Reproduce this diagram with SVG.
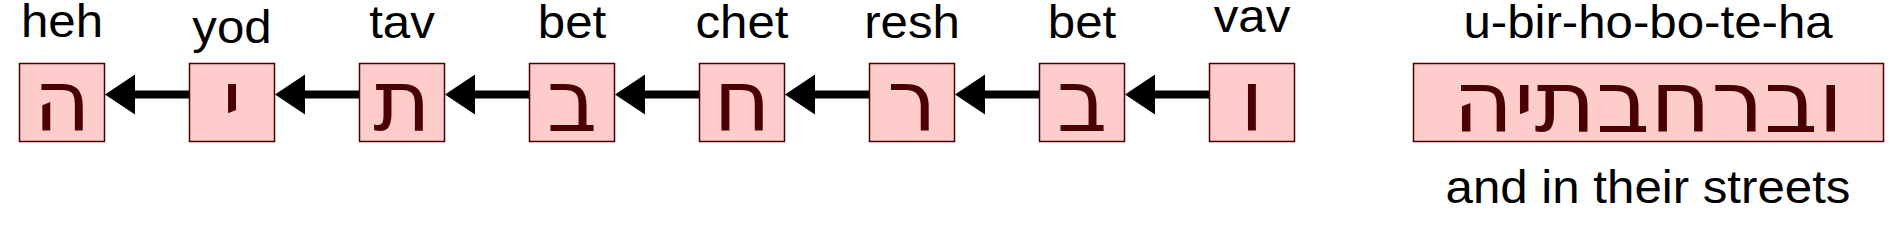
<svg xmlns="http://www.w3.org/2000/svg" width="1903" height="241" viewBox="0 0 1903 241">
<style>
.box{fill:#ffcccc;stroke:#4a0000;stroke-width:1.5}
.lbl{font-family:"Liberation Sans",Arial,sans-serif;font-size:46px;fill:#000;text-anchor:middle}
.heb{font-family:"DejaVu Sans",sans-serif;font-size:85px;fill:#4a0000;text-anchor:middle}
.ln{stroke:#000;stroke-width:8;fill:none}
.ah{fill:#000}
</style>
<rect width="1903" height="241" fill="#fff"/>
<g id="connectors">
<line class="ln" x1="189.5" y1="94.5" x2="130" y2="94.5"/><polygon class="ah" points="105,94.5 135,74.5 135,114.5"/>
<line class="ln" x1="359.5" y1="94.5" x2="300" y2="94.5"/><polygon class="ah" points="275,94.5 305,74.5 305,114.5"/>
<line class="ln" x1="529.5" y1="94.5" x2="470" y2="94.5"/><polygon class="ah" points="445,94.5 475,74.5 475,114.5"/>
<line class="ln" x1="699.5" y1="94.5" x2="640" y2="94.5"/><polygon class="ah" points="615,94.5 645,74.5 645,114.5"/>
<line class="ln" x1="869.5" y1="94.5" x2="810" y2="94.5"/><polygon class="ah" points="785,94.5 815,74.5 815,114.5"/>
<line class="ln" x1="1039.5" y1="94.5" x2="980" y2="94.5"/><polygon class="ah" points="955,94.5 985,74.5 985,114.5"/>
<line class="ln" x1="1209.5" y1="94.5" x2="1150" y2="94.5"/><polygon class="ah" points="1125,94.5 1155,74.5 1155,114.5"/>
</g>
<g id="n-heh"><rect class="box" x="19.5" y="63.5" width="85" height="78"/><text class="heb" transform="translate(62,130.5) scale(1.03,1)">ה</text><text class="lbl" transform="translate(62,37) scale(1.07,1)">heh</text></g>
<g id="n-yod"><rect class="box" x="189.5" y="63.5" width="85" height="78"/><text class="heb" transform="translate(232,130.5) scale(1.03,1)">י</text><text class="lbl" transform="translate(232,42.5) scale(1.07,1)">yod</text></g>
<g id="n-tav"><rect class="box" x="359.5" y="63.5" width="85" height="78"/><text class="heb" transform="translate(402,130.5) scale(1.03,1)">ת</text><text class="lbl" transform="translate(402,37.5) scale(1.07,1)">tav</text></g>
<g id="n-bet1"><rect class="box" x="529.5" y="63.5" width="85" height="78"/><text class="heb" transform="translate(572,130.5) scale(1.03,1)">ב</text><text class="lbl" transform="translate(572,37.5) scale(1.07,1)">bet</text></g>
<g id="n-chet"><rect class="box" x="699.5" y="63.5" width="85" height="78"/><text class="heb" transform="translate(742,130.5) scale(1.03,1)">ח</text><text class="lbl" transform="translate(742,37.5) scale(1.07,1)">chet</text></g>
<g id="n-resh"><rect class="box" x="869.5" y="63.5" width="85" height="78"/><text class="heb" transform="translate(912,130.5) scale(1.03,1)">ר</text><text class="lbl" transform="translate(912,37.5) scale(1.07,1)">resh</text></g>
<g id="n-bet2"><rect class="box" x="1039.5" y="63.5" width="85" height="78"/><text class="heb" transform="translate(1082,130.5) scale(1.03,1)">ב</text><text class="lbl" transform="translate(1082,37.5) scale(1.07,1)">bet</text></g>
<g id="n-vav"><rect class="box" x="1209.5" y="63.5" width="85" height="78"/><text class="heb" transform="translate(1252,130.5) scale(1.03,1)">ו</text><text class="lbl" transform="translate(1252,32) scale(1.07,1)">vav</text></g>
<g id="n-word"><rect class="box" x="1413.5" y="63.5" width="470" height="78"/><text class="heb" transform="translate(1648,130.5) scale(1.1,1)">וברחבתיה</text><text class="lbl" transform="translate(1648,37.5) scale(1.07,1)">u-bir-ho-bo-te-ha</text><text class="lbl" transform="translate(1648,203) scale(1.07,1)">and in their streets</text></g>
</svg>
